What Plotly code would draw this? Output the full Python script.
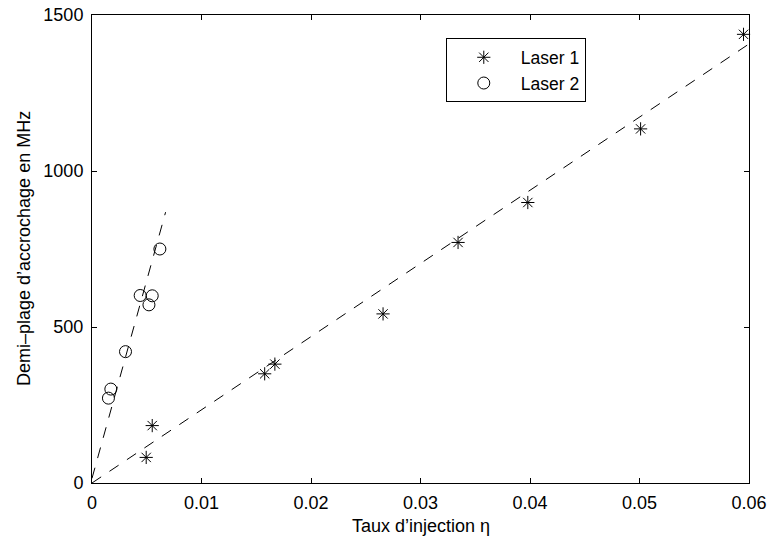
import plotly.graph_objects as go

# Laser 1 data (stars)
laser1_x = [0.00495, 0.0055, 0.01577, 0.0167, 0.02658, 0.03343, 0.0398, 0.0501, 0.0595]
laser1_y = [82, 184, 350, 381, 542, 771, 899, 1135, 1438]

# Laser 2 data (circles)
laser2_x = [0.0015, 0.00172, 0.00306, 0.0044, 0.0052, 0.0055, 0.0062]
laser2_y = [272, 301, 421, 601, 571, 600, 750]

# fitted lines (end points)
fit1_x = [0.0, 0.0605]
fit1_y = [0.0, 1419]
fit2_x = [0.0, 0.00672]
fit2_y = [15, 868]

x_ticks = [0, 0.01, 0.02, 0.03, 0.04, 0.05, 0.06]
x_tick_labels = ["0", "0.01", "0.02", "0.03", "0.04", "0.05", "0.06"]
y_ticks = [0, 500, 1000, 1500]
y_tick_labels = ["0", "500", "1000", "1500"]

x_title = "Taux d’injection η"
y_title = "Demi–plage d’accrochage en MHz"

FONT = "Liberation Sans, Arial, Helvetica, sans-serif"
FS = 18

fig = go.Figure()
fig.add_trace(go.Scatter(x=fit1_x, y=fit1_y, mode="lines", showlegend=False,
                         line=dict(color="black", width=1, dash="11px,10px"), hoverinfo="skip"))
fig.add_trace(go.Scatter(x=fit2_x, y=fit2_y, mode="lines", showlegend=False,
                         line=dict(color="black", width=1, dash="11px,10px"), hoverinfo="skip"))
fig.add_trace(go.Scatter(x=laser1_x, y=laser1_y, mode="markers", name="Laser 1",
                         marker=dict(symbol="asterisk-open", size=11, color="black",
                                     line=dict(color="black", width=1)),
                         cliponaxis=False))
fig.add_trace(go.Scatter(x=laser2_x, y=laser2_y, mode="markers", name="Laser 2",
                         marker=dict(symbol="circle-open", size=12, color="black",
                                     line=dict(color="black", width=1)),
                         cliponaxis=False))

axis_common = dict(
    showgrid=False, zeroline=False, showline=True, linecolor="black", linewidth=1,
    mirror="ticks", ticks="inside", ticklen=5, tickcolor="black", tickwidth=1,
    tickfont=dict(family=FONT, size=FS, color="black"), automargin=False,
    ticklabeloverflow="allow",
)

fig.update_layout(
    width=768, height=536,
    margin=dict(l=92, r=19, t=15, b=53),
    paper_bgcolor="white", plot_bgcolor="white",
    font=dict(family=FONT, size=FS, color="black"),
    xaxis=dict(range=[0, 0.06], tickvals=x_ticks, ticktext=x_tick_labels,
               ticklabelstandoff=3, **axis_common),
    yaxis=dict(range=[0, 1500], tickvals=y_ticks, ticktext=y_tick_labels,
               ticklabelstandoff=4, **axis_common),
    legend=dict(x=0.5385, y=0.95, xanchor="left", yanchor="top",
                bordercolor="black", borderwidth=1, bgcolor="white",
                font=dict(family=FONT, size=17.5), itemwidth=64,
                tracegroupgap=0),
    annotations=[
        dict(text=x_title, xref="paper", yref="paper", x=0.5, y=0,
             xanchor="center", yanchor="top", yshift=-31, showarrow=False,
             font=dict(family=FONT, size=FS, color="black")),
        dict(text=y_title, xref="paper", yref="paper", x=0, y=0.5,
             xanchor="center", yanchor="middle", xshift=-68, textangle=-90,
             showarrow=False, font=dict(family=FONT, size=FS, color="black")),
    ],
)

fig.write_html("out.html", config={"displayModeBar": False},
               post_script="document.body.style.margin='0';")
